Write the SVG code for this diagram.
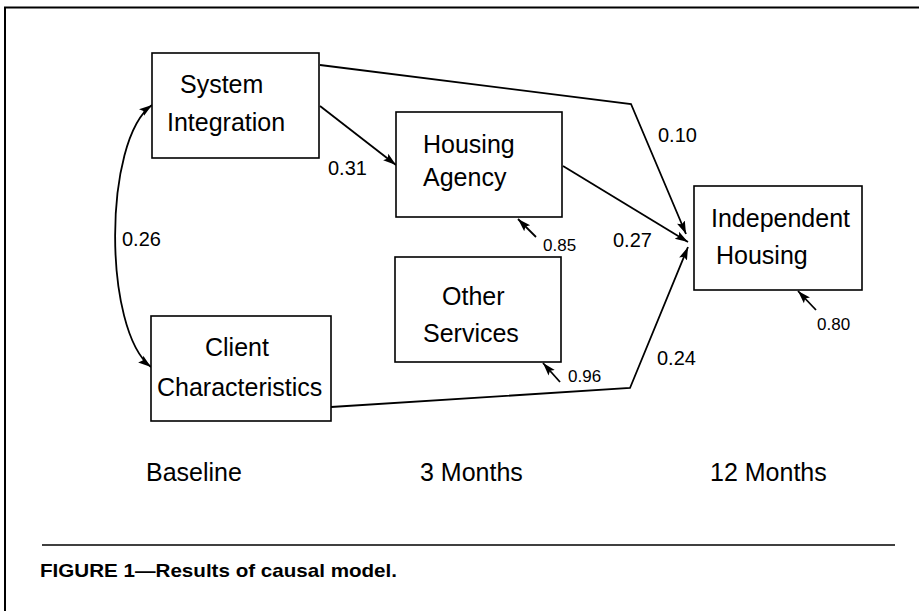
<svg xmlns="http://www.w3.org/2000/svg" width="919" height="611" viewBox="0 0 919 611">
<style>
.box{fill:#fff;stroke:#000;stroke-width:1.6}
.lbl{font-family:"Liberation Sans",Arial,sans-serif;font-size:25px;fill:#000}
.num{font-family:"Liberation Sans",Arial,sans-serif;font-size:20px;fill:#000}
.sm{font-family:"Liberation Sans",Arial,sans-serif;font-size:17px;fill:#000}
.edge{fill:none;stroke:#000;stroke-width:1.8}
</style>
<defs>
<marker id="ah" markerUnits="userSpaceOnUse" markerWidth="14" markerHeight="10" refX="13" refY="5" orient="auto-start-reverse">
<path d="M0,0.8 L13,5 L0,9.2 L2.5,5 z" fill="#000"/>
</marker>
</defs>
<rect width="919" height="611" fill="#fff"/>
<path d="M5,611 V7.5 H919" fill="none" stroke="#000" stroke-width="2"/>

<g id="connectors">
<path class="edge" d="M320,65 L631,104 L686,234" marker-end="url(#ah)"/>
<path class="edge" d="M320,106 L396,165" marker-end="url(#ah)"/>
<path class="edge" d="M563,166 L688,242" marker-end="url(#ah)"/>
<path class="edge" d="M331,407 L630,388 L688,247" marker-end="url(#ah)"/>
<path class="edge" d="M152,105 C103,140 103,330 151,367" marker-start="url(#ah)" marker-end="url(#ah)"/>
<path class="edge" d="M536,237 L518,219" marker-end="url(#ah)"/>
<path class="edge" d="M560,382 L543,363" marker-end="url(#ah)"/>
<path class="edge" d="M816,310 L798,291" marker-end="url(#ah)"/>
</g>

<g id="system-integration">
<rect class="box" x="152" y="53" width="167" height="105"/>
<text class="lbl" x="180" y="93">System</text>
<text class="lbl" x="167" y="131">Integration</text>
</g>
<g id="housing-agency">
<rect class="box" x="396" y="112" width="166" height="105"/>
<text class="lbl" x="423" y="153">Housing</text>
<text class="lbl" x="423" y="186">Agency</text>
</g>
<g id="other-services">
<rect class="box" x="395" y="257" width="166" height="105"/>
<text class="lbl" x="442" y="305">Other</text>
<text class="lbl" x="423" y="342">Services</text>
</g>
<g id="client-characteristics">
<rect class="box" x="151" y="316" width="180" height="105"/>
<text class="lbl" x="205" y="356">Client</text>
<text class="lbl" x="157" y="396">Characteristics</text>
</g>
<g id="independent-housing">
<rect class="box" x="694" y="186" width="168" height="104"/>
<text class="lbl" x="711" y="227">Independent</text>
<text class="lbl" x="716" y="264">Housing</text>
</g>

<g id="labels">
<text class="num" x="328" y="175">0.31</text>
<text class="num" x="658" y="142">0.10</text>
<text class="num" x="613" y="247">0.27</text>
<text class="num" x="122" y="246">0.26</text>
<text class="num" x="657" y="365">0.24</text>
<text class="sm" x="543" y="251">0.85</text>
<text class="sm" x="568" y="382">0.96</text>
<text class="sm" x="817" y="330">0.80</text>
<text class="lbl" x="146" y="481">Baseline</text>
<text class="lbl" x="420" y="481">3 Months</text>
<text class="lbl" x="710" y="481">12 Months</text>
</g>

<line x1="42" y1="545" x2="895" y2="545" stroke="#000" stroke-width="1.6"/>
<text x="40" y="577" font-family="'Liberation Sans',Arial,sans-serif" font-weight="bold" font-size="19" textLength="357" lengthAdjust="spacingAndGlyphs">FIGURE 1—Results of causal model.</text>
</svg>
